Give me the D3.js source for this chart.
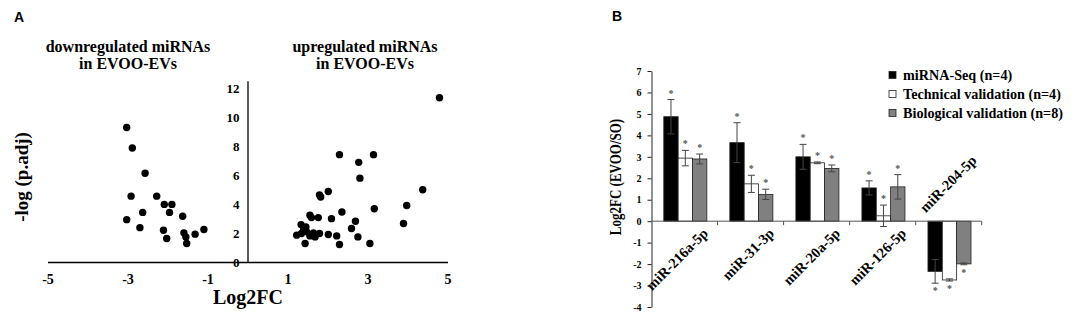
<!DOCTYPE html>
<html>
<head>
<meta charset="utf-8">
<script src="https://cdn.jsdelivr.net/npm/d3@7"></script>
<style>
  body { margin: 0; background: #fff; }
  svg { display: block; }
  text { font-family: "Liberation Serif", "Times New Roman", serif; font-weight: bold; fill: #000; }
</style>
</head>
<body>
<svg width="1084" height="328"></svg>
<script>
// ---- panel A data (volcano-like scatter) ----
var downFC = [-3.02, -2.88, -2.56, -2.91, -2.27, -2.08, -1.89, -2.62, -1.95, -1.62, -3.02, -2.69, -2.10, -1.09, -1.59, -1.31, -2.02, -1.54, -1.52];
var downP  = [9.27, 7.86, 6.12, 4.54, 4.54, 3.97, 3.97, 3.42, 3.42, 3.15, 2.92, 2.37, 2.19, 2.24, 2.01, 1.92, 1.62, 1.73, 1.28];
var upFC = [4.80, 2.30, 3.15, 2.78, 2.81, 4.38, 2.02, 1.80, 1.83, 3.98, 3.17, 2.36, 1.56, 1.77, 2.10, 1.60, 2.70, 3.90, 1.34, 1.46, 2.60, 1.23, 1.35, 1.48, 1.65, 1.80, 1.56, 2.02, 2.23, 2.76, 1.44, 2.30, 3.06, 1.69, 1.40];
var upP  = [11.32, 7.40, 7.40, 6.87, 5.78, 4.98, 4.86, 4.63, 4.48, 3.90, 3.67, 3.45, 3.22, 3.06, 2.99, 3.06, 2.81, 2.65, 2.58, 2.42, 2.31, 1.85, 1.97, 2.08, 2.01, 1.97, 1.80, 1.90, 1.80, 1.73, 1.28, 1.21, 1.28, 1.73, 2.20];
var xTicksA = [-5, -3, -1, 1, 3, 5];
var yTicksA = [0, 2, 4, 6, 8, 10, 12];

// ---- panel B data (grouped bars) ----
var categories = ["miR-216a-5p", "miR-31-3p", "miR-20a-5p", "miR-126-5p", "miR-204-5p"];
var seqVals  = [4.87, 3.66, 3.00, 1.55, -2.34];
var seqErr   = [0.80, 0.93, 0.58, 0.33, 0.55];
var techVals = [2.94, 1.74, 2.72, 0.25, -2.74];
var techErr  = [0.36, 0.40, 0.04, 0.50, 0.05];
var bioVals  = [2.90, 1.25, 2.46, 1.60, -1.99];
var bioErr   = [0.23, 0.24, 0.16, 0.57, 0.04];
var seriesNames = ["miRNA-Seq (n=4)", "Technical validation (n=4)", "Biological validation (n=8)"];
var yTicksB = [-4, -3, -2, -1, 0, 1, 2, 3, 4, 5, 6, 7];

var svg = d3.select("svg");

// panel letters
svg.append("text").attr("x", 14).attr("y", 22)
    .style("font-family", "'Liberation Sans', Arial, sans-serif").style("font-size", "14px").text("A");
svg.append("text").attr("x", 612).attr("y", 21)
    .style("font-family", "'Liberation Sans', Arial, sans-serif").style("font-size", "14px").text("B");

// =============== panel A ===============
var xA = d3.scaleLinear().domain([-5, 5]).range([47.5, 447.5]);
var yA = d3.scaleLinear().domain([0, 12.5]).range([262, 80.7]);

var gA = svg.append("g");

var xAxisA = gA.append("g")
    .attr("transform", "translate(0," + yA(0) + ")")
    .call(d3.axisBottom(xA).tickValues(xTicksA).tickSize(0).tickPadding(12).tickFormat(function (d) { return String(d); }));
xAxisA.select(".domain").attr("stroke", "#000").attr("stroke-width", 1.3);
xAxisA.selectAll("text").style("font-size", "14px").attr("font-family", null);

var yAxisA = gA.append("g")
    .attr("transform", "translate(" + xA(0) + ",0)")
    .call(d3.axisLeft(yA).tickValues(yTicksA).tickSize(0).tickPadding(8));
yAxisA.select(".domain").attr("stroke", "#000").attr("stroke-width", 1.3);
yAxisA.selectAll("text").style("font-size", "13px").attr("font-family", null);

gA.append("text").attr("x", 248).attr("y", 304).attr("text-anchor", "middle")
    .style("font-size", "20px").text("Log2FC");
gA.append("text").attr("transform", "translate(28,177) rotate(-90)").attr("text-anchor", "middle")
    .style("font-size", "19px").text("-log (p.adj)");

gA.append("text").attr("x", 128).attr("y", 52).attr("text-anchor", "middle").style("font-size", "16px").text("downregulated miRNAs");
gA.append("text").attr("x", 128).attr("y", 69).attr("text-anchor", "middle").style("font-size", "16px").text("in EVOO-EVs");
gA.append("text").attr("x", 365).attr("y", 52).attr("text-anchor", "middle").style("font-size", "16px").text("upregulated miRNAs");
gA.append("text").attr("x", 365).attr("y", 69).attr("text-anchor", "middle").style("font-size", "16px").text("in EVOO-EVs");

var downPts = downFC.map(function (d, i) { return {x: d, y: downP[i]}; });
var upPts = upFC.map(function (d, i) { return {x: d, y: upP[i]}; });

gA.selectAll("circle.pt")
    .data(downPts.concat(upPts))
    .enter()
    .append("circle")
    .attr("class", "pt")
    .attr("cx", function (d) { return xA(d.x); })
    .attr("cy", function (d) { return yA(d.y); })
    .attr("r", 3.7)
    .attr("fill", "#000");

// =============== panel B ===============
var xB = d3.scaleBand().domain(categories).range([651.5, 981.7]);
var yB = d3.scaleLinear().domain([-4, 7]).range([307, 71]);
var barColors = ["#000", "#fff", "#808080"];
var sub = d3.scaleBand().domain([0, 1, 2]).range([12.3, xB.bandwidth() - 10.7]);

var gB = svg.append("g");

var yAxisB = gB.append("g")
    .attr("transform", "translate(" + xB.range()[0] + ",0)")
    .call(d3.axisLeft(yB).tickValues(yTicksB).tickSize(4).tickSizeOuter(0).tickPadding(6)
        .tickFormat(function (d) { return String(d); }));
yAxisB.selectAll("line, .domain").attr("stroke", "#222");
yAxisB.selectAll("text").style("font-size", "10px").attr("font-family", null);

// page image is a bit stretched horizontally, hence the scale()
gB.append("text").attr("transform", "translate(621,177) scale(1.3,1) rotate(-90)").attr("text-anchor", "middle")
    .style("font-size", "13px").text("Log2FC (EVOO/SO)");

var rows = [];
categories.forEach(function (c, i) {
    rows.push({c: c, s: 0, v: seqVals[i], e: seqErr[i]});
    rows.push({c: c, s: 1, v: techVals[i], e: techErr[i]});
    rows.push({c: c, s: 2, v: bioVals[i], e: bioErr[i]});
});

gB.selectAll("rect.bar")
    .data(rows)
    .enter()
    .append("rect")
    .attr("class", "bar")
    .attr("x", function (d) { return xB(d.c) + sub(d.s); })
    .attr("y", function (d) { return yB(Math.max(0, d.v)); })
    .attr("width", sub.bandwidth())
    .attr("height", function (d) { return Math.abs(yB(d.v) - yB(0)); })
    .attr("fill", function (d) { return barColors[d.s]; })
    .attr("stroke", "#222")
    .attr("stroke-width", 0.8);

// x axis at zero
gB.append("line")
    .attr("x1", xB.range()[0]).attr("x2", xB.range()[1])
    .attr("y1", yB(0)).attr("y2", yB(0))
    .attr("stroke", "#555").attr("stroke-width", 1);
gB.selectAll("line.xtick")
    .data(categories.slice(1).concat(["end"]))
    .enter()
    .append("line")
    .attr("class", "xtick")
    .attr("x1", function (d) { return d === "end" ? xB.range()[1] : xB(d); })
    .attr("x2", function (d) { return d === "end" ? xB.range()[1] : xB(d); })
    .attr("y1", yB(0)).attr("y2", yB(0) + 4)
    .attr("stroke", "#555");

// error bars
var eb = gB.selectAll("g.err").data(rows).enter().append("g").attr("class", "err");
function cx(d) { return xB(d.c) + sub(d.s) + sub.bandwidth() / 2; }
eb.append("line")
    .attr("x1", cx).attr("x2", cx)
    .attr("y1", function (d) { return yB(d.v + d.e); })
    .attr("y2", function (d) { return yB(d.v - d.e); })
    .attr("stroke", "#444");
eb.append("line")
    .attr("x1", function (d) { return cx(d) - 3.5; }).attr("x2", function (d) { return cx(d) + 3.5; })
    .attr("y1", function (d) { return yB(d.v + d.e); }).attr("y2", function (d) { return yB(d.v + d.e); })
    .attr("stroke", "#444");
eb.append("line")
    .attr("x1", function (d) { return cx(d) - 3.5; }).attr("x2", function (d) { return cx(d) + 3.5; })
    .attr("y1", function (d) { return yB(d.v - d.e); }).attr("y2", function (d) { return yB(d.v - d.e); })
    .attr("stroke", "#444");

// significance marks
gB.selectAll("text.star")
    .data(rows)
    .enter()
    .append("text")
    .attr("class", "star")
    .attr("x", cx)
    .attr("y", function (d) { return d.v >= 0 ? yB(d.v + d.e) - 3 : yB(d.v - d.e) + 11; })
    .attr("text-anchor", "middle")
    .style("font-size", "10px").style("fill", "#555")
    .text("*");

// category labels
gB.selectAll("text.cat")
    .data(categories)
    .enter()
    .append("text")
    .attr("class", "cat")
    .attr("transform", function (d, i) {
        if (seqVals[i] < 0) return "translate(" + (xB(d) + 10) + "," + (yB(0) - 8) + ") rotate(-45)";
        return "translate(" + (xB(d) + xB.bandwidth() * 0.87) + "," + (yB(0) + 13) + ") rotate(-45)";
    })
    .attr("text-anchor", function (d, i) { return seqVals[i] < 0 ? "start" : "end"; })
    .style("font-size", "14.5px")
    .text(function (d) { return d; });

// legend
var lg = gB.selectAll("g.leg")
    .data(seriesNames)
    .enter()
    .append("g")
    .attr("class", "leg")
    .attr("transform", function (d, i) { return "translate(889," + (75 + i * 19) + ")"; });
lg.append("rect")
    .attr("x", 0).attr("y", -3.5).attr("width", 7).attr("height", 7)
    .attr("fill", function (d, i) { return barColors[i]; })
    .attr("stroke", "#222").attr("stroke-width", 0.8);
var lgText = lg.append("text")
    .attr("transform", "translate(14,5)")
    .style("font-size", "14px")
    .text(function (d) { return d; });
// widen to the reference's stretched look: "Technical validation (n=4)" spans ~158px there
var sx = 158 / lgText.nodes()[1].getComputedTextLength();
lgText.attr("transform", "translate(14,5) scale(" + sx + ",1)");
</script>
</body>
</html>
